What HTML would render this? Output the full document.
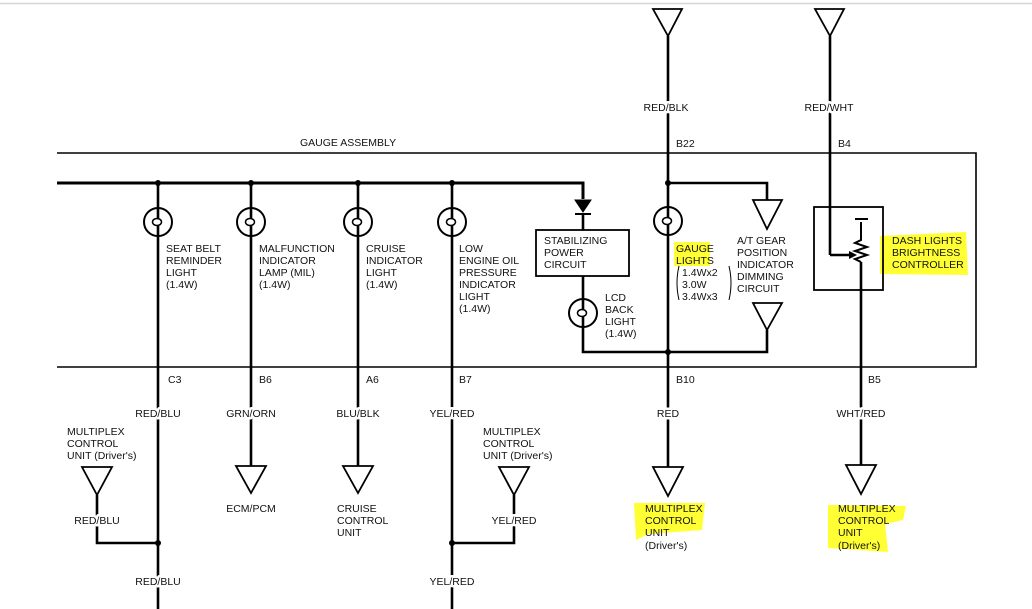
<!DOCTYPE html>
<html><head><meta charset="utf-8"><style>
html,body{margin:0;padding:0;background:#fff;width:1032px;height:609px;overflow:hidden}
svg{display:block}
text{font-family:"Liberation Sans",Arial,sans-serif;font-size:10.5px;fill:#111}
.w{stroke:#fff;stroke-width:5px;paint-order:stroke;stroke-linejoin:round}
</style></head><body>
<svg width="1032" height="609" viewBox="0 0 1032 609">
<line x1="0" y1="3.5" x2="1032" y2="3.5" stroke="#d6d6d6" stroke-width="1.5"/>
<g fill="#ffff33">
<rect x="674" y="242" width="36" height="24"/>
<path d="M880 236 L966 232 L968 275 L880 274 Z"/>
<path d="M634 503 L705 503 L702 530 L648 534 L636 540 Z"/>
<path d="M828 505 L906 506 L903 520 L885 524 L888 552 L828 548 Z"/>
</g>
<g stroke="#000" fill="none">
<polyline points="57,153 976,153 976,367 57,367" stroke-width="1.6"/>
<polyline points="57,183 583,183 583,199" stroke-width="3"/>
<g stroke-width="2.6">
<line x1="158" y1="183" x2="158" y2="609"/>
<line x1="251" y1="183" x2="251" y2="466"/>
<line x1="358" y1="183" x2="358" y2="466"/>
<line x1="452" y1="183" x2="452" y2="609"/>
<line x1="668" y1="36" x2="668" y2="467"/>
<line x1="830" y1="36" x2="830" y2="255"/>
<line x1="861" y1="262" x2="861" y2="465"/>
<polyline points="668,183 767,183 767,200"/>
<polyline points="583,276 583,352 767,352 767,330"/>
<line x1="583" y1="215" x2="583" y2="230"/>
<polyline points="97,495 97,543 158,543"/>
<polyline points="514,495 514,543 452,543"/>
<line x1="830" y1="255" x2="852" y2="255"/>
<polyline points="861,222 861,240 855,243 867,247 855,251 867,255 855,259 861,262" stroke-width="2"/>
<line x1="855" y1="219" x2="868" y2="219" stroke-width="2"/>
</g>
<g stroke-width="2" fill="#fff">
<circle cx="158" cy="222" r="14"/><circle cx="251" cy="222" r="14"/>
<circle cx="358" cy="222" r="14"/><circle cx="452" cy="222" r="14"/>
<circle cx="668" cy="221" r="14"/><circle cx="583" cy="313" r="14"/>
</g>
<g stroke-width="2.6"><line x1="158" y1="208" x2="158" y2="236"/><line x1="251" y1="208" x2="251" y2="236"/><line x1="358" y1="208" x2="358" y2="236"/><line x1="452" y1="208" x2="452" y2="236"/><line x1="668" y1="207" x2="668" y2="235"/><line x1="583" y1="299" x2="583" y2="327"/></g>
<g stroke-width="1.5" fill="#fff">
<ellipse cx="157" cy="222" rx="4.5" ry="3.5"/>
<ellipse cx="250" cy="222" rx="4.5" ry="3.5"/>
<ellipse cx="357" cy="222" rx="4.5" ry="3.5"/>
<ellipse cx="451" cy="222" rx="4.5" ry="3.5"/>
<ellipse cx="667" cy="221" rx="4.5" ry="3.5"/>
<ellipse cx="582" cy="313" rx="4.5" ry="3.5"/>
</g>
<path d="M575 200 L591 200 L583 212 Z" fill="#000" stroke-width="1"/>
<line x1="575" y1="214" x2="591" y2="214" stroke-width="2"/>
<rect x="536" y="230" width="93" height="46" stroke-width="1.8" fill="#fff"/>
<rect x="814" y="207" width="69" height="83" stroke-width="1.8"/>
<path d="M679 266 Q675 283 679 300 M729 266 Q733 283 729 300" stroke-width="1"/>
<g stroke-width="1.8" fill="#fff">
<path d="M653 9 L682 9 L668 36 Z"/><path d="M815 9 L844 9 L830 36 Z"/>
<path d="M753 200 L782 200 L767 229 Z"/><path d="M753 303 L782 303 L767 330 Z"/>
<path d="M82 467 L112 467 L97 495 Z"/><path d="M499 467 L529 467 L514 495 Z"/>
<path d="M236 466 L266 466 L251 493 Z"/><path d="M343 466 L373 466 L358 493 Z"/>
<path d="M653 467 L683 467 L668 496 Z"/><path d="M846 465 L876 465 L861 494 Z"/>
</g>
</g>
<g fill="#000">
<circle cx="158" cy="183" r="3"/><circle cx="251" cy="183" r="3"/><circle cx="358" cy="183" r="3"/><circle cx="452" cy="183" r="3"/>
<circle cx="668" cy="183" r="3"/><circle cx="668" cy="352" r="3"/><circle cx="158" cy="543" r="3"/><circle cx="452" cy="543" r="3"/>
<path d="M849 251 L857 255 L849 259 Z"/>
</g>
<text x="300" y="146">GAUGE ASSEMBLY</text>
<text class="w" x="666" y="111" text-anchor="middle">RED/BLK</text>
<text class="w" x="829" y="111" text-anchor="middle">RED/WHT</text>
<text x="676" y="147">B22</text><text x="838" y="147">B4</text>
<g>
<text x="166" y="252">SEAT BELT</text><text x="166" y="264">REMINDER</text><text x="166" y="276">LIGHT</text><text x="166" y="288">(1.4W)</text>
<text x="259" y="252">MALFUNCTION</text><text x="259" y="264">INDICATOR</text><text x="259" y="276">LAMP (MIL)</text><text x="259" y="288">(1.4W)</text>
<text x="366" y="252">CRUISE</text><text x="366" y="264">INDICATOR</text><text x="366" y="276">LIGHT</text><text x="366" y="288">(1.4W)</text>
<text x="459" y="252">LOW</text><text x="459" y="264">ENGINE OIL</text><text x="459" y="276">PRESSURE</text><text x="459" y="288">INDICATOR</text><text x="459" y="300">LIGHT</text><text x="459" y="312">(1.4W)</text>
<text x="544" y="244">STABILIZING</text><text x="544" y="256">POWER</text><text x="544" y="268">CIRCUIT</text>
<text x="605" y="301">LCD</text><text x="605" y="313">BACK</text><text x="605" y="325">LIGHT</text><text x="605" y="337">(1.4W)</text>
<text x="676" y="252">GAUGE</text><text x="676" y="264">LIGHTS</text><text x="682" y="276">1.4Wx2</text><text x="682" y="288">3.0W</text><text x="682" y="300">3.4Wx3</text>
<text x="737" y="244">A/T GEAR</text><text x="737" y="256">POSITION</text><text x="737" y="268">INDICATOR</text><text x="737" y="280">DIMMING</text><text x="737" y="292">CIRCUIT</text>
<text x="892" y="244">DASH LIGHTS</text><text x="892" y="256">BRIGHTNESS</text><text x="892" y="268">CONTROLLER</text>
<text x="168" y="383">C3</text><text x="259" y="383">B6</text><text x="366" y="383">A6</text><text x="459" y="383">B7</text>
<text x="676" y="383">B10</text><text x="868" y="383">B5</text>
<text class="w" x="158" y="417" text-anchor="middle">RED/BLU</text><text class="w" x="251" y="417" text-anchor="middle">GRN/ORN</text>
<text class="w" x="358" y="417" text-anchor="middle">BLU/BLK</text><text class="w" x="452" y="417" text-anchor="middle">YEL/RED</text>
<text class="w" x="668" y="417" text-anchor="middle">RED</text><text class="w" x="861" y="417" text-anchor="middle">WHT/RED</text>
<text x="67" y="435">MULTIPLEX</text><text x="67" y="447">CONTROL</text><text x="67" y="459">UNIT (Driver's)</text>
<text x="483" y="435">MULTIPLEX</text><text x="483" y="447">CONTROL</text><text x="483" y="459">UNIT (Driver's)</text>
<text class="w" x="97" y="524" text-anchor="middle">RED/BLU</text><text class="w" x="514" y="524" text-anchor="middle">YEL/RED</text>
<text x="251" y="512" text-anchor="middle">ECM/PCM</text>
<text x="337" y="512">CRUISE</text><text x="337" y="524">CONTROL</text><text x="337" y="536">UNIT</text>
<text class="w" x="158" y="585" text-anchor="middle">RED/BLU</text><text class="w" x="452" y="585" text-anchor="middle">YEL/RED</text>
<text x="645" y="512">MULTIPLEX</text><text x="645" y="524">CONTROL</text><text x="645" y="536">UNIT</text><text x="645" y="549">(Driver's)</text>
<text x="838" y="512">MULTIPLEX</text><text x="838" y="524">CONTROL</text><text x="838" y="536">UNIT</text><text x="838" y="549">(Driver's)</text>
</g>
</svg>
</body></html>
